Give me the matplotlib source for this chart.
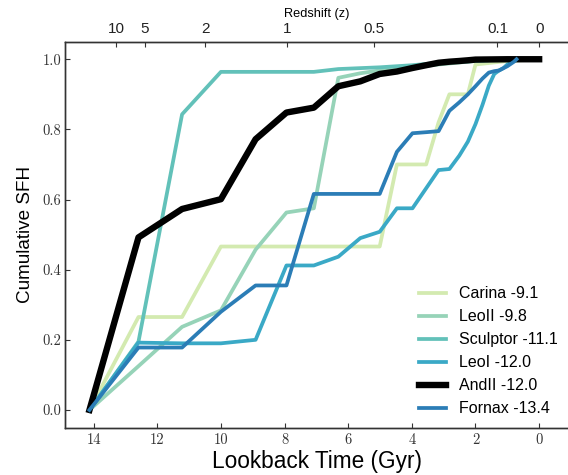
import matplotlib
matplotlib.use("Agg")
import matplotlib.pyplot as plt

# ---- data (lookback time in Gyr, cumulative SFH) ----
carina_t = [14.13, 12.59, 11.22, 10.0, 5.01, 4.47, 3.55, 3.16, 2.82, 2.24, 2.0, 1.0, 0.0]
carina_v = [0.0, 0.265, 0.265, 0.466, 0.466, 0.70, 0.70, 0.82, 0.90, 0.90, 0.985, 0.995, 1.0]

leoii_t = [14.13, 12.59, 11.22, 10.0, 8.91, 7.94, 7.08, 6.31, 5.62, 5.01, 4.47, 3.16, 2.0, 1.0, 0.0]
leoii_v = [0.0, 0.125, 0.237, 0.284, 0.457, 0.563, 0.575, 0.947, 0.96, 0.968, 0.973, 0.985, 0.995, 1.0, 1.0]

sculptor_t = [14.13, 12.59, 11.22, 10.0, 7.08, 6.31, 5.01, 3.98, 3.16, 2.0, 1.0, 0.0]
sculptor_v = [0.0, 0.195, 0.843, 0.964, 0.964, 0.972, 0.977, 0.983, 0.99, 0.995, 1.0, 1.0]

leoi_t = [14.13, 12.59, 11.22, 10.0, 8.91, 7.94, 7.08, 6.31, 5.62, 5.01, 4.47, 3.98, 3.16, 2.82,
          2.51, 2.24, 2.0, 1.78, 1.58, 1.41, 1.26, 1.12, 1.0, 0.79, 0.71]
leoi_v = [0.0, 0.192, 0.19, 0.19, 0.2, 0.412, 0.412, 0.437, 0.49, 0.508, 0.575, 0.575, 0.684, 0.687,
          0.725, 0.765, 0.815, 0.87, 0.925, 0.958, 0.968, 0.975, 0.985, 0.995, 1.0]

andii_t = [14.13, 12.59, 11.22, 10.0, 8.91, 7.94, 7.08, 6.31, 5.62, 5.01, 4.47, 3.98, 3.55, 3.16,
           2.82, 2.51, 2.24, 2.0, 1.0, 0.0]
andii_v = [0.0, 0.492, 0.573, 0.601, 0.772, 0.848, 0.862, 0.923, 0.937, 0.958, 0.965, 0.975, 0.983, 0.99,
           0.993, 0.995, 0.997, 0.999, 1.0, 1.0]

fornax_t = [14.13, 12.59, 11.22, 10.0, 8.91, 7.94, 7.08, 5.01, 4.47, 3.98, 3.55, 3.16, 2.82, 2.51,
            2.24, 2.0, 1.78, 1.58, 1.41, 1.26, 1.0, 0.79, 0.71]
fornax_v = [0.0, 0.178, 0.178, 0.28, 0.355, 0.355, 0.616, 0.616, 0.736, 0.789, 0.792, 0.795, 0.853, 0.877,
            0.90, 0.923, 0.945, 0.962, 0.966, 0.968, 0.98, 0.993, 1.0]

labels = ["Carina -9.1", "LeoII -9.8", "Sculptor -11.1", "LeoI -12.0", "AndII -12.0", "Fornax -13.4"]
colors = ["#d3eab0", "#96d3b8", "#62c1b9", "#3aa9c6", "#000000", "#2b7db6"]
widths = [2.7, 2.7, 2.7, 2.7, 4.6, 2.7]

x_ticks = [14, 12, 10, 8, 6, 4, 2, 0]
y_ticks = [0.0, 0.2, 0.4, 0.6, 0.8, 1.0]
z_labels = ["10", "5", "2", "1", "0.5", "0.1", "0"]
z_pos = [13.29, 12.40, 10.49, 7.92, 5.20, 1.31, 0.0]

series_t = [carina_t, leoii_t, sculptor_t, leoi_t, andii_t, fornax_t]
series_v = [carina_v, leoii_v, sculptor_v, leoi_v, andii_v, fornax_v]

sans = "Liberation Sans"
serif = "cmr10"

fig = plt.figure(figsize=(5.68, 4.75), dpi=100)
ax = fig.add_axes([0.1144, 0.1, 0.888, 0.8122])

for t, v, lab, c, w in zip(series_t, series_v, labels, colors, widths):
    ax.plot(t, v, color=c, lw=w, label=lab, solid_joinstyle="round")

ax.set_xlim(14.9, -0.95)
ax.set_ylim(-0.05, 1.05)
ax.set_xticks(x_ticks)
ax.set_xticklabels([str(x) for x in x_ticks], fontfamily=serif, fontsize=10.5)
ax.set_yticks(y_ticks)
ax.set_yticklabels([f"{y:.1f}" for y in y_ticks], fontfamily=serif, fontsize=10.5)
ax.tick_params(axis="x", direction="in", length=3.5, width=0.8, pad=4, top=False, colors="#333333",
               labelcolor="#333333")
ax.tick_params(axis="y", direction="in", length=3.5, width=0.8, pad=2.5, right=False, colors="#333333",
               labelcolor="#333333")
for s in ax.spines.values():
    s.set_color("#333333")
    s.set_linewidth(1.0)

ax.set_xlabel("Lookback Time (Gyr)", fontfamily=sans, fontsize=16.3, labelpad=2)
ax.set_ylabel("Cumulative SFH", fontfamily=sans, fontsize=13.6, labelpad=6)

ax2 = ax.twiny()
ax2.set_xlim(ax.get_xlim())
ax2.set_xticks(z_pos)
ax2.set_xticklabels(z_labels, fontfamily=sans, fontsize=11)
ax2.tick_params(axis="x", direction="in", length=3.5, width=0.8, pad=4, colors="#333333", labelcolor="#222222")
ax2.set_xlabel("Redshift (z)", fontfamily=sans, fontsize=9.2, labelpad=4)
for s in ax2.spines.values():
    s.set_color("#333333")
    s.set_linewidth(1.0)

leg = ax.legend(loc="lower right", frameon=False, prop={"family": sans, "size": 11.5},
                handlelength=1.7, handletextpad=0.85, labelspacing=0.5, borderaxespad=0.3)

fig.savefig("out.png", dpi=100)
